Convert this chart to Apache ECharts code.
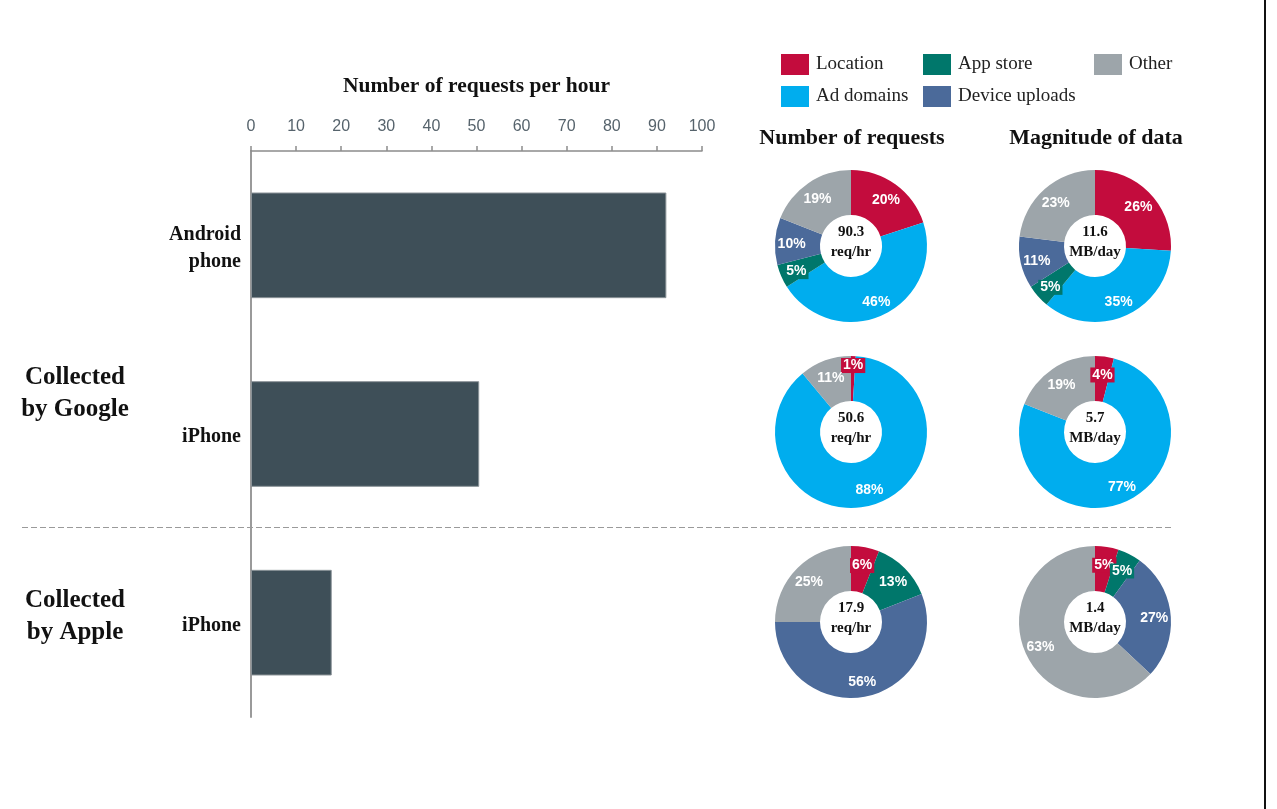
<!DOCTYPE html>
<html>
<head>
<meta charset="utf-8">
<script src="https://cdn.jsdelivr.net/npm/echarts@6/dist/echarts.min.js"></script>
<style>
html,body{margin:0;padding:0;background:#fff;}
#chart{width:1277px;height:809px;}
</style>
</head>
<body>
<div id="chart"></div>
<script>
// ---- data ----
const deviceKeys = ['android_google', 'iphone_google', 'iphone_apple'];
const deviceLabels = ['Android\nphone', 'iPhone', 'iPhone'];
const requestsPerHour = [92.1, 50.6, 17.9];
const xTicks = [0, 10, 20, 30, 40, 50, 60, 70, 80, 90, 100];
const groupLabels = ['Collected\nby Google', 'Collected\nby Apple'];

const sliceNames = ['Location', 'Ad domains', 'App store', 'Device uploads', 'Other'];
// per device: [Location, Ad domains, App store, Device uploads, Other]
const reqAndroid = [20, 46, 5, 10, 19];
const dataAndroid = [26, 35, 5, 11, 23];
const reqIphoneGoogle = [1, 88, 0, 0, 11];
const dataIphoneGoogle = [4, 77, 0, 0, 19];
const reqIphoneApple = [6, 0, 13, 56, 25];
const dataIphoneApple = [5, 0, 5, 27, 63];

const reqTotals = ['90.3', '50.6', '17.9'];
const dataTotals = ['11.6', '5.7', '1.4'];
const reqUnit = 'req/hr';
const dataUnit = 'MB/day';
const pieTitles = ['Number of requests', 'Magnitude of data'];
const axisTitle = 'Number of requests per hour';

// ---- styles ----
const SERIF = "'Liberation Serif', 'Times New Roman', serif";
const SANS = "'Liberation Sans', Arial, sans-serif";
const sliceColors = ['#c30c3d', '#00adee', '#00776b', '#4b6a9a', '#9da5aa'];
const barColor = '#3e4f58';
const LABEL_PUSH = 3;   // push inside labels slightly outward
const LABEL_DROP = 2;   // small vertical nudge of inside labels

const chart = echarts.init(document.getElementById('chart'), null, {renderer: 'canvas'});

const pieCenters = {x: [851, 1095], y: [246, 432, 622]};
const pieSets = [
  [reqAndroid, dataAndroid],
  [reqIphoneGoogle, dataIphoneGoogle],
  [reqIphoneApple, dataIphoneApple]
];

const series = [{
  type: 'bar',
  data: requestsPerHour,
  barCategoryGap: '44%',
  itemStyle: {color: barColor, borderColor: '#8a9297', borderWidth: 1},
  silent: true
}];

const titles = [];
pieSets.forEach((pair, row) => {
  pair.forEach((vals, col) => {
    const data = [];
    const sum = vals.reduce((a, b) => a + b, 0);
    let cum = 0;
    vals.forEach((v, i) => {
      if (v > 0) {
        const share = v / sum;
        const mid = (cum + v / 2) / sum * Math.PI * 2;
        const push = share < 0.02 ? 12 : LABEL_PUSH;
        data.push({
          name: sliceNames[i], value: v,
          itemStyle: {color: sliceColors[i]},
          label: {backgroundColor: share < 0.08 ? sliceColors[i] : 'transparent',
            offset: [Math.sin(mid) * push, -Math.cos(mid) * push + LABEL_DROP]}
        });
      }
      cum += v;
    });
    series.push({
      type: 'pie',
      center: [pieCenters.x[col], pieCenters.y[row]],
      radius: [31, 76],
      startAngle: 90,
      clockwise: true,
      silent: true,
      avoidLabelOverlap: false,
      minShowLabelAngle: 0,
      labelLayout: {hideOverlap: false},
      data: data,
      label: {
        show: true, position: 'inside',
        formatter: '{c}%',
        color: '#fff', fontFamily: SANS, fontWeight: 'bold', fontSize: 14,
        padding: [1, 2, 0, 2]
      },
      labelLine: {show: false},
      itemStyle: {borderWidth: 0}
    });
    const total = col === 0 ? reqTotals[row] : dataTotals[row];
    const unit = col === 0 ? reqUnit : dataUnit;
    titles.push({
      text: total + '\n' + unit,
      left: pieCenters.x[col], top: pieCenters.y[row] - 4,
      padding: 0,
      textAlign: 'center', textVerticalAlign: 'middle',
      textStyle: {fontFamily: SERIF, fontWeight: 'bold', fontSize: 15, lineHeight: 20, color: '#111'}
    });
  });
});

const pieTitleX = [852, 1096];
pieTitles.forEach((t, col) => {
  titles.push({
    text: t, left: pieTitleX[col], top: 138, padding: 0,
    textAlign: 'center', textVerticalAlign: 'middle',
    textStyle: {fontFamily: SERIF, fontWeight: 'bold', fontSize: 22, color: '#111'}
  });
});

const legendCommon = {
  orient: 'vertical', itemWidth: 28, itemHeight: 21, itemGap: 11, padding: 0,
  icon: 'rect', selectedMode: false,
  textStyle: {fontFamily: SERIF, fontSize: 19, color: '#222', padding: [3, 0, 0, 2]}
};

const option = {
  animation: false,
  backgroundColor: '#fff',
  title: titles,
  legend: [
    Object.assign({}, legendCommon, {left: 781, top: 54, data: [sliceNames[0], sliceNames[1]]}),
    Object.assign({}, legendCommon, {left: 923, top: 54, data: [sliceNames[2], sliceNames[3]]}),
    Object.assign({}, legendCommon, {left: 1094, top: 54, data: [sliceNames[4]]})
  ],
  grid: {left: 251, right: 1277 - 702, top: 151, bottom: 809 - 717, containLabel: false},
  xAxis: {
    type: 'value', position: 'top', min: 0, max: 100, interval: 10,
    name: axisTitle, nameLocation: 'middle', nameGap: 54,
    nameTextStyle: {fontFamily: SERIF, fontWeight: 'bold', fontSize: 21.5, color: '#111'},
    axisLine: {show: true, lineStyle: {color: '#8c8c8c', width: 1.5}},
    axisTick: {show: true, length: 5, lineStyle: {color: '#8c8c8c', width: 1.5}},
    axisLabel: {fontFamily: SANS, fontSize: 16, color: '#56636c', margin: 16,
      formatter: v => xTicks.indexOf(v) >= 0 ? String(v) : ''},
    splitLine: {show: false}
  },
  yAxis: {
    type: 'category', inverse: true, data: deviceKeys,
    axisLine: {show: true, lineStyle: {color: '#9a9a9a', width: 2}},
    axisTick: {show: false},
    axisLabel: {
      margin: 10, color: '#111',
      formatter: (v, i) => deviceLabels[i].split('\n').map(s => '{l|' + s + '}').join('\n'),
      rich: {l: {fontFamily: SERIF, fontWeight: 'bold', fontSize: 20, lineHeight: 27, color: '#111',
        padding: [6, 0, 0, 0]}}
    }
  },
  graphic: [
    {type: 'line', shape: {x1: 22, y1: 527.5, x2: 1172, y2: 527.5}, silent: true,
      style: {stroke: '#9a9a9a', lineWidth: 1.2, lineDash: [6, 3]}},
    {type: 'line', shape: {x1: 1265, y1: 0, x2: 1265, y2: 809}, silent: true,
      style: {stroke: '#111', lineWidth: 2}},
    {type: 'text', x: 75, y: 394, silent: true,
      style: {text: groupLabels[0], fontFamily: SERIF, fontWeight: 'bold', fontSize: 25, lineHeight: 32,
        fill: '#111', align: 'center', verticalAlign: 'middle'}},
    {type: 'text', x: 75, y: 617, silent: true,
      style: {text: groupLabels[1], fontFamily: SERIF, fontWeight: 'bold', fontSize: 25, lineHeight: 32,
        fill: '#111', align: 'center', verticalAlign: 'middle'}}
  ],
  series: series
};
chart.setOption(option);
</script>
</body>
</html>
